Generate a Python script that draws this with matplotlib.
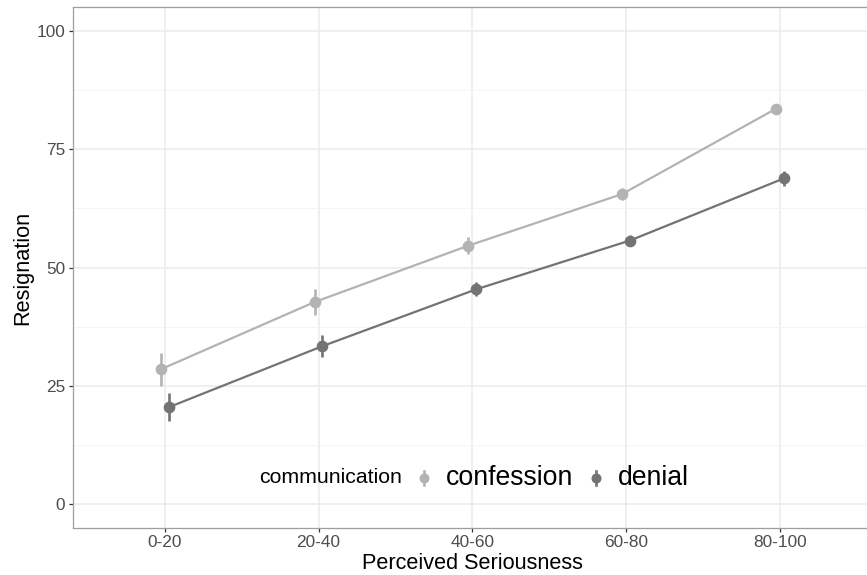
import matplotlib
matplotlib.use("Agg")
import matplotlib.pyplot as plt
import numpy as np
from matplotlib.lines import Line2D
from matplotlib.offsetbox import TextArea, DrawingArea, HPacker, AnchoredOffsetbox

plt.rcParams['font.family'] = ['Liberation Sans', 'DejaVu Sans']

categories = ["0-20", "20-40", "40-60", "60-80", "80-100"]
series_names = ["confession", "denial"]
confession_mean = [28.5, 42.7, 54.6, 65.5, 83.5]
confession_err = [3.5, 2.8, 1.8, 1.2, 1.0]
denial_mean = [20.5, 33.4, 45.4, 55.7, 68.8]
denial_err = [3.0, 2.4, 1.5, 1.2, 1.5]
colors = ["#B3B3B3", "#737373"]
y_ticks = [0, 25, 50, 75, 100]

fig = plt.figure(figsize=(8.67, 5.75), dpi=100)
ax = fig.add_axes([72.5 / 867, 1 - 528 / 575, (872 - 72.5) / 867, (528 - 7) / 575])

x = np.arange(1, len(categories) + 1)
dodge = 0.026
for i, (m, e, c) in enumerate([(confession_mean, confession_err, colors[0]),
                               (denial_mean, denial_err, colors[1])]):
    xs = x + (-dodge if i == 0 else dodge)
    ax.plot(xs, m, color=c, lw=1.6, zorder=3, solid_capstyle='butt')
    ax.errorbar(xs, m, yerr=e, fmt='o', color=c, ms=7.4, elinewidth=1.9,
                capsize=0, zorder=4)

ax.set_xlim(0.4, 5.6)
ax.set_ylim(-5, 105)
ax.set_xticks(x)
ax.set_xticklabels(categories)
ax.set_yticks(y_ticks)
ax.set_yticks([12.5, 37.5, 62.5, 87.5], minor=True)
ax.grid(True, which='major', color='#EBEBEB', lw=1.1, zorder=0)
ax.grid(True, which='minor', axis='y', color='#F4F4F4', lw=0.6, zorder=0)
ax.set_axisbelow(True)
for s in ax.spines.values():
    s.set_color('#9E9E9E')
    s.set_linewidth(0.9)
ax.tick_params(axis='both', which='major', length=3.2, width=0.9, color='#333333',
               labelcolor='#4D4D4D', labelsize=12.4, pad=2)
ax.tick_params(axis='y', which='minor', length=0)
ax.set_xlabel("Perceived Seriousness", fontsize=15.6, labelpad=2)
ax.set_ylabel("Resignation", fontsize=15.6, labelpad=2.5)

# legend built from offsetbox pieces (title on the left, horizontal)
def key(color):
    da = DrawingArea(24, 14, 0, 0)
    da.add_artist(Line2D([12, 12], [2, 12], color=color, lw=1.9))
    da.add_artist(Line2D([12], [7], marker='o', ms=6.2, color=color, lw=0))
    return da

children = [TextArea("communication", textprops=dict(fontsize=15.3, color='black'))]
for name, c in zip(series_names, colors):
    children.append(key(c))
    children.append(TextArea(name, textprops=dict(fontsize=19.2, color='black')))
hp = HPacker(children=children, align='center', pad=0, sep=4)
ab = AnchoredOffsetbox(loc='center', child=hp, pad=0, borderpad=0, frameon=False,
                       bbox_to_anchor=(0.502, 0.096), bbox_transform=ax.transAxes)
ax.add_artist(ab)

fig.savefig("out.png", dpi=100)
